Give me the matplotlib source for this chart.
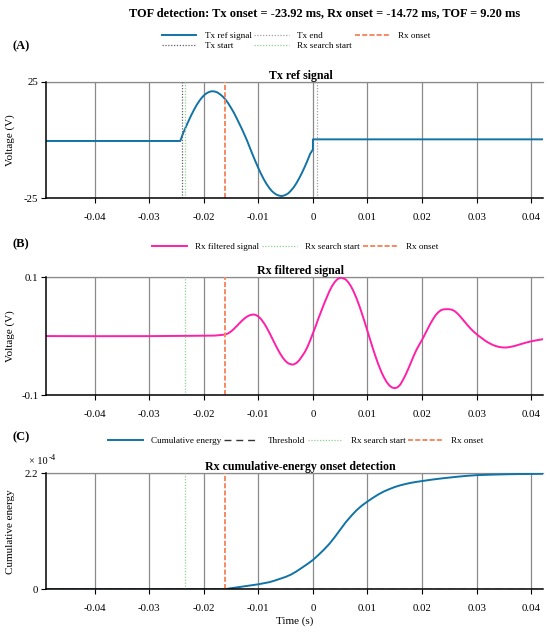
import matplotlib
matplotlib.use('Agg')
import matplotlib.pyplot as plt

plt.rcParams['font.family'] = ['Liberation Serif', 'DejaVu Serif']
plt.rcParams['axes.unicode_minus'] = False

# ---------------- data ----------------
title_text = "TOF detection: Tx onset = -23.92 ms, Rx onset = -14.72 ms, TOF = 9.20 ms"

x_ticks = [-0.04, -0.03, -0.02, -0.01, 0.0, 0.01, 0.02, 0.03, 0.04]
x_tick_labels = ["-0.04", "-0.03", "-0.02", "-0.01", "0", "0.01", "0.02", "0.03", "0.04"]
x_limits = [-0.0489, 0.0421]

# Panel A: Tx reference signal (s, V)
tx_t = [-0.0489, -0.040, -0.030, -0.0243,
        -0.0238, -0.0233, -0.0228, -0.0223, -0.0218, -0.0213, -0.0208, -0.0203,
        -0.0198, -0.0193, -0.0188, -0.0184, -0.0180, -0.0175, -0.0170, -0.0165,
        -0.0160, -0.0155, -0.0150, -0.0145, -0.0140, -0.0135, -0.0130, -0.0125,
        -0.0120, -0.0115, -0.0110, -0.0105, -0.0100, -0.0095, -0.0090, -0.0085,
        -0.0080, -0.0075, -0.0070, -0.0065, -0.0058, -0.0055, -0.0050, -0.0045,
        -0.0040, -0.0035, -0.0030, -0.0025, -0.0020, -0.0015, -0.0010, -0.0005,
        0.0, 0.0, 0.010, 0.020, 0.030, 0.0421]
tx_v = [-0.4, -0.4, -0.4, -0.4,
        2.8, 5.5, 8.1, 10.6, 12.9, 15.0, 16.8, 18.3,
        19.5, 20.3, 20.8, 20.9, 20.8, 20.4, 19.6, 18.6,
        17.3, 15.7, 13.8, 11.8, 9.5, 7.1, 4.7, 2.1,
        -0.6, -3.6, -6.5, -9.3, -12.0, -14.5, -16.8, -18.8,
        -20.5, -21.9, -22.9, -23.6, -24.0, -23.9, -23.5, -22.8,
        -21.6, -20.2, -18.4, -16.3, -14.0, -11.5, -8.8, -5.9,
        -4.0, 0.3, 0.3, 0.3, 0.3, 0.3]

# Panel B: Rx filtered signal (s, V)
rx_t = [-0.0489, -0.040, -0.030, -0.0224, -0.0180, -0.0165,
        -0.0160, -0.0155, -0.0150, -0.0145, -0.0140, -0.0135, -0.0130, -0.0125,
        -0.0120, -0.0115, -0.0109, -0.0105, -0.0100, -0.0095, -0.0090, -0.0085,
        -0.0080, -0.0075, -0.0070, -0.0065, -0.0060, -0.0055, -0.0050, -0.0045,
        -0.0038, -0.0035, -0.0030, -0.0025, -0.0020, -0.0015, -0.0010, -0.0005,
        0.0000, 0.0005, 0.0010, 0.0015, 0.0020, 0.0025, 0.0030, 0.0035,
        0.0040, 0.0045, 0.0052, 0.0060, 0.0065, 0.0070, 0.0075, 0.0080,
        0.0085, 0.0090, 0.0095, 0.0100, 0.0105, 0.0110, 0.0115, 0.0120,
        0.0125, 0.0130, 0.0135, 0.0140, 0.0145, 0.0150, 0.0155, 0.0160,
        0.0165, 0.0170, 0.0175, 0.0180, 0.0185, 0.0190, 0.0195, 0.0200,
        0.0205, 0.0210, 0.0215, 0.0220, 0.0225, 0.0230, 0.0235, 0.0240,
        0.0249, 0.0255, 0.0260, 0.0265, 0.0270, 0.0275, 0.0280, 0.0285,
        0.0290, 0.0295, 0.0300, 0.0305, 0.0310, 0.0315, 0.0320, 0.0325,
        0.0330, 0.0335, 0.0340, 0.0345, 0.0350, 0.0355, 0.0360, 0.0370,
        0.0380, 0.0390, 0.0400, 0.0410, 0.0421]
rx_v = [0.0004, 0.0002, 0.0003, 0.0008, 0.0012, 0.0025,
        0.0032, 0.0051, 0.0082, 0.0123, 0.0169, 0.0217, 0.0264, 0.0305,
        0.0338, 0.0360, 0.0370, 0.0363, 0.0337, 0.0291, 0.0228, 0.0152,
        0.0066, -0.0027, -0.0121, -0.0211, -0.0294, -0.0365, -0.0421, -0.0460,
        -0.0480, -0.0476, -0.0451, -0.0405, -0.0339, -0.0270, -0.0180, -0.0070,
        0.0050, 0.0170, 0.0300, 0.0420, 0.0540, 0.0650, 0.0760, 0.0850,
        0.0920, 0.0970, 0.0995, 0.0964, 0.0914, 0.0843, 0.0751, 0.0642,
        0.0518, 0.0381, 0.0237, 0.0087, -0.0062, -0.0209, -0.0349, -0.0479,
        -0.0595, -0.0693, -0.0774, -0.0833, -0.0868, -0.0880, -0.0865, -0.0820,
        -0.0740, -0.0650, -0.0545, -0.0435, -0.0325, -0.0225, -0.0140, -0.0060,
        0.0030, 0.0120, 0.0210, 0.0290, 0.0360, 0.0410, 0.0445, 0.0458,
        0.0460, 0.0450, 0.0425, 0.0385, 0.0335, 0.0280, 0.0225, 0.0170,
        0.0120, 0.0075, 0.0035, -0.0002, -0.0035, -0.0070, -0.0100, -0.0125,
        -0.0148, -0.0165, -0.0178, -0.0186, -0.0190, -0.0189, -0.0183, -0.0163,
        -0.0135, -0.0108, -0.0085, -0.0067, -0.0050]

# Panel C: cumulative energy
en_t = [-0.0489, -0.030, -0.020, -0.0165, -0.016, -0.015, -0.014, -0.013, -0.012,
        -0.011, -0.010, -0.009, -0.008, -0.007, -0.006, -0.005, -0.004, -0.003,
        -0.002, -0.001, 0.000, 0.001, 0.002, 0.003, 0.004, 0.005, 0.006, 0.007,
        0.008, 0.009, 0.010, 0.011, 0.012, 0.013, 0.014, 0.015, 0.016, 0.017,
        0.018, 0.019, 0.020, 0.022, 0.024, 0.026, 0.028, 0.030, 0.033, 0.036,
        0.039, 0.0421]
en_v = [0.0, 0.0, 0.0, 0.0, 0.005e-4, 0.02e-4, 0.035e-4, 0.05e-4, 0.065e-4,
        0.08e-4, 0.095e-4, 0.115e-4, 0.135e-4, 0.165e-4, 0.20e-4, 0.235e-4, 0.28e-4, 0.34e-4,
        0.41e-4, 0.48e-4, 0.556e-4, 0.65e-4, 0.75e-4, 0.86e-4, 0.99e-4, 1.13e-4, 1.27e-4, 1.39e-4,
        1.50e-4, 1.59e-4, 1.665e-4, 1.735e-4, 1.80e-4, 1.855e-4, 1.90e-4, 1.94e-4, 1.972e-4, 1.998e-4,
        2.02e-4, 2.038e-4, 2.053e-4, 2.083e-4, 2.108e-4, 2.13e-4, 2.15e-4, 2.165e-4, 2.175e-4, 2.183e-4,
        2.187e-4, 2.19e-4]
threshold = 2.2e-7

tx_start = -0.0240
tx_end = 0.0008
rx_search_start = -0.0234
rx_onset = -0.0161

# ---------------- styles ----------------
C_BLUE = '#1273a6'
C_PINK = '#ff1fa8'
C_ORANGE = '#f58a64'
C_GREEN = '#8fcf8f'
C_TXSTART = '#606060'
C_TXEND = '#a0a0a0'
C_GRID = '#8a8a8a'

W, H = 550, 632
fig = plt.figure(figsize=(5.5, 6.32), dpi=100)

def fx(px):
    return px / W

def fy(py):
    return 1 - py / H

AX_L, AX_R = 46, 542.7
panels = [(81.7, 198.4), (277.3, 395.3), (473.3, 589.3)]
axes = []
for top, bot in panels:
    ax = fig.add_axes([fx(AX_L), fy(bot), (AX_R - AX_L) / W, (bot - top) / H])
    axes.append(ax)

def style(ax, yticks, ylabels, ylim):
    ax.set_xlim(x_limits)
    ax.set_ylim(ylim)
    ax.set_xticks(x_ticks)
    ax.set_xticklabels(x_tick_labels)
    ax.set_yticks(yticks)
    ax.set_yticklabels(ylabels)
    for s in ['top', 'right']:
        ax.spines[s].set_visible(False)
    for s in ['left', 'bottom']:
        ax.spines[s].set_linewidth(1.1)
        ax.spines[s].set_color('black')
    ax.grid(True, color=C_GRID, lw=0.9)
    ax.set_axisbelow(True)
    ax.tick_params(axis='both', direction='out', length=3.5, width=0.8, labelsize=7.8)
    ax.tick_params(axis='x', pad=6.8)
    ax.tick_params(axis='y', pad=2)
    ax.axhline(ylim[1], color=C_GRID, lw=0.9, zorder=0.6, clip_on=False)

dot = (0, (1.0, 1.3))
dash_on = (0, (2.6, 1.1))
leg_kw = dict(loc='center', frameon=False, fontsize=6.6, handlelength=3.8,
              handletextpad=0.9, columnspacing=0.3, borderpad=0.1)

# ---- Panel A ----
ax = axes[0]
ax.plot(tx_t, tx_v, color=C_BLUE, lw=1.4, label='Tx ref signal')
ax.axvline(tx_start, color=C_TXSTART, lw=0.9, ls=dot, label='Tx start')
ax.axvline(tx_end, color=C_TXEND, lw=0.9, ls=dot, label='Tx end')
ax.axvline(rx_search_start, color=C_GREEN, lw=0.9, ls=dot, label='Rx search start')
ax.axvline(rx_onset, color=C_ORANGE, lw=1.4, ls=dash_on, label='Rx onset')
style(ax, [-25, 25], ['-25', '25'], (-25, 25))
h, l = ax.get_legend_handles_labels()
fig.legend(h, l, bbox_to_anchor=(fx(296), fy(40.7)), ncol=3, labelspacing=0.15, **leg_kw)

# ---- Panel B ----
ax = axes[1]
ax.plot(rx_t, rx_v, color=C_PINK, lw=1.4, label='Rx filtered signal')
ax.axvline(rx_search_start, color=C_GREEN, lw=0.9, ls=dot, label='Rx search start')
ax.axvline(rx_onset, color=C_ORANGE, lw=1.4, ls=dash_on, label='Rx onset')
style(ax, [-0.1, 0.1], ['-0.1', '0.1'], (-0.1, 0.1))
h, l = ax.get_legend_handles_labels()
fig.legend(h, l, bbox_to_anchor=(fx(295), fy(247)), ncol=3, **leg_kw)

# ---- Panel C ----
ax = axes[2]
ax.plot(en_t, en_v, color=C_BLUE, lw=1.4, label='Cumulative energy')
ax.axhline(threshold, color='#333333', lw=1.0, ls=(0, (5, 3.5)), label='Threshold')
ax.axvline(rx_search_start, color=C_GREEN, lw=0.9, ls=dot, label='Rx search start')
ax.axvline(rx_onset, color=C_ORANGE, lw=1.4, ls=dash_on, label='Rx onset')
style(ax, [0, 2.2e-4], ['0', '2.2'], (0, 2.2e-4))
h, l = ax.get_legend_handles_labels()
fig.legend(h, l, bbox_to_anchor=(fx(296), fy(441)), ncol=4, **leg_kw)

# ---------------- texts ----------------
fig.text(fx(324.6), fy(12.8), title_text, ha='center', va='center', fontsize=8.9, fontweight='bold')
fig.text(fx(300.5), fy(75.5), 'Tx ref signal', ha='center', va='center', fontsize=8.6, fontweight='bold')
fig.text(fx(300.5), fy(271), 'Rx filtered signal', ha='center', va='center', fontsize=8.6, fontweight='bold')
fig.text(fx(300.5), fy(467), 'Rx cumulative-energy onset detection', ha='center', va='center',
         fontsize=8.6, fontweight='bold')

fig.text(fx(12), fy(46.5), '(A)', ha='left', va='center', fontsize=9, fontweight='bold')
fig.text(fx(12), fy(244.5), '(B)', ha='left', va='center', fontsize=9, fontweight='bold')
fig.text(fx(12), fy(437), '(C)', ha='left', va='center', fontsize=9, fontweight='bold')

fig.text(fx(10.5), fy((panels[0][0] + panels[0][1]) / 2), 'Voltage (V)', rotation=90,
         ha='center', va='center', fontsize=8)
fig.text(fx(10.5), fy((panels[1][0] + panels[1][1]) / 2), 'Voltage (V)', rotation=90,
         ha='center', va='center', fontsize=8)
fig.text(fx(10.5), fy((panels[2][0] + panels[2][1]) / 2), 'Cumulative energy', rotation=90,
         ha='center', va='center', fontsize=8)
fig.text(fx((AX_L + AX_R) / 2), fy(621), 'Time (s)', ha='center', va='center', fontsize=8)

fig.text(fx(29), fy(462), '\u00d7 10', ha='left', va='center', fontsize=7.4)
fig.text(fx(49), fy(457.5), '-4', ha='left', va='center', fontsize=6.2)

fig.savefig('out.png', dpi=100)
